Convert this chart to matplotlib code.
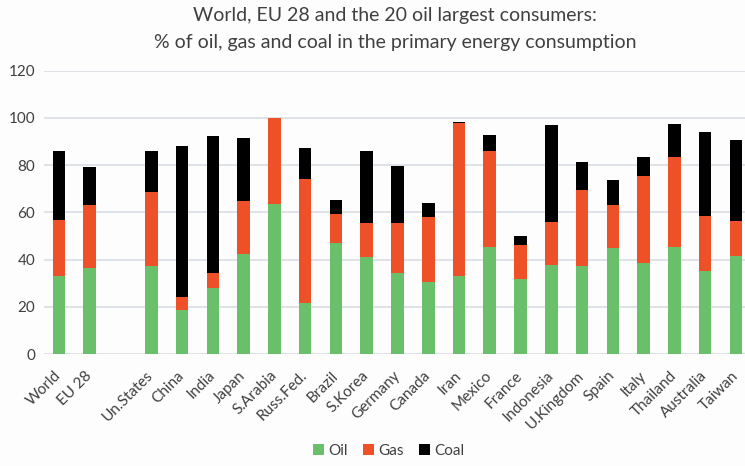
import numpy as np
import matplotlib
matplotlib.use("Agg")
import matplotlib.pyplot as plt

# categories (blank slot between EU 28 and Un.States, as in the original)
labels = ["World", "EU 28", "", "Un.States", "China", "India", "Japan", "S.Arabia",
          "Russ.Fed.", "Brazil", "S.Korea", "Germany", "Canada", "Iran", "Mexico",
          "France", "Indonesia", "U.Kingdom", "Spain", "Italy", "Thailand",
          "Australia", "Taiwan"]

# % of primary energy consumption
oil = [33.0, 36.6, 0, 37.3, 18.5, 27.8, 42.4, 63.5, 21.5, 46.9, 40.9, 34.4, 30.4,
       33.2, 45.5, 31.8, 37.6, 37.3, 44.7, 38.7, 45.2, 35.2, 41.6]
gas = [23.6, 26.5, 0, 31.2, 5.8, 6.6, 22.5, 36.3, 52.5, 12.4, 14.4, 20.9, 27.8,
       64.6, 40.3, 14.5, 18.3, 32.0, 18.4, 36.7, 38.1, 23.4, 14.7]
coal = [29.2, 16.2, 0, 17.3, 63.7, 57.8, 26.6, 0.0, 13.1, 5.9, 30.5, 24.3, 5.9,
        0.5, 6.8, 3.5, 40.9, 12.2, 10.7, 8.2, 14.0, 35.4, 34.2]

green = "#6abf6b"
red = "#ee5128"
black = "#000000"

plt.rcParams['font.family'] = ['Lato', 'DejaVu Sans']

fig = plt.figure(figsize=(7.45, 4.66), dpi=100)
fig.patch.set_facecolor("#fdfdfd")
ax = fig.add_axes([0.0585, 0.2403, 0.95, 0.608])
ax.set_facecolor("#fdfdfd")

x = np.arange(len(labels))
oil_a = np.array(oil)
gas_a = np.array(gas)
coal_a = np.array(coal)
w = 0.41
ax.bar(x, oil_a, w, color=green, label="Oil", zorder=3)
ax.bar(x, gas_a, w, bottom=oil_a, color=red, label="Gas", zorder=3)
ax.bar(x, coal_a, w, bottom=oil_a + gas_a, color=black, label="Coal", zorder=3)

ax.set_xlim(-0.5, len(labels) - 0.5)
ax.set_ylim(0, 120)
ax.set_yticks(range(0, 121, 20))
ax.yaxis.grid(True, color="#d9dde3", linewidth=1.2, zorder=0)
for s in ax.spines.values():
    s.set_visible(False)
ax.tick_params(axis="both", length=0, labelsize=11, colors="#404040")
ax.tick_params(axis="y", pad=6)
ax.tick_params(axis="x", pad=14)
ax.set_xticks(x)
ax.set_xticklabels(labels, rotation=45, ha="right", va="center", rotation_mode="anchor")

fig.text(0.53, 0.966, "World, EU 28 and the 20 oil largest consumers:",
         ha="center", va="center", fontsize=14, color="#404040")
fig.text(0.53, 0.908, "% of oil, gas and coal in the primary energy consumption",
         ha="center", va="center", fontsize=14, color="#404040")

fig.legend(loc="center", bbox_to_anchor=(0.522, 0.032), ncol=3, frameon=False,
           fontsize=11, handlelength=0.7, handleheight=0.7, handletextpad=0.3,
           columnspacing=1.0, labelcolor="#404040")

fig.savefig("out.png", dpi=100, facecolor=fig.get_facecolor())
